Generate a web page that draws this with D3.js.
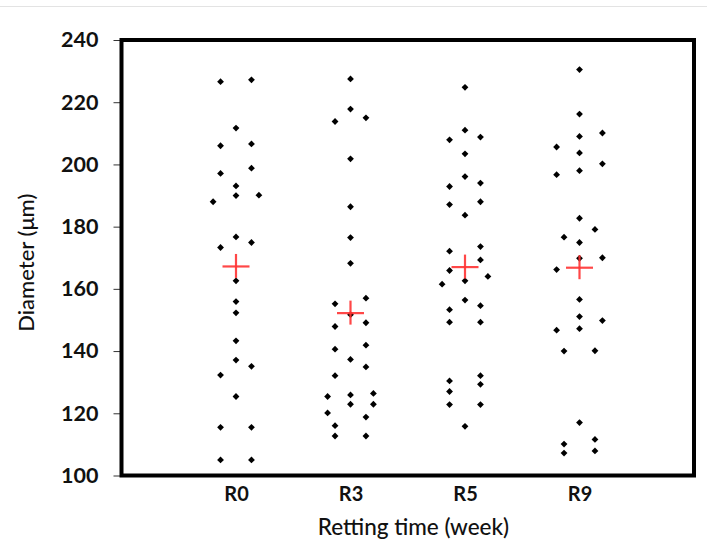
<!DOCTYPE html>
<html>
<head>
<meta charset="utf-8">
<script src="https://cdn.jsdelivr.net/npm/d3@7/dist/d3.min.js"></script>
<style>
  html, body { margin: 0; padding: 0; background: #ffffff; }
  svg { display: block; }
</style>
</head>
<body>
<svg id="chart" width="707" height="542"></svg>
<script>
// ---------- data ----------
const categories = ["R0", "R3", "R5", "R9"];

const r0Values = [226.6, 227.2, 211.7, 206.0, 206.6, 197.1, 198.8, 193.1, 190.0, 190.1, 188.0,
  176.7, 174.9, 173.3, 162.6, 155.9, 152.3, 143.3, 137.1, 135.1, 132.3, 125.4, 115.5, 115.5, 105.0, 105.0];
const r0Columns = [-1, 1, 0, -1, 1, -1, 1, 0, 0, 2, -2, 0, 1, -1, 0, 0, 0, 0, 0, 1, -1, 0, -1, 1, -1, 1];

const r3Values = [227.5, 217.8, 213.8, 215.0, 201.8, 186.4, 176.5, 168.2, 157.0, 155.2, 151.7, 149.1,
  147.9, 140.6, 141.9, 137.3, 134.9, 132.1, 125.4, 125.9, 126.4, 122.9, 122.9, 120.1, 118.8, 116.0, 112.7, 112.7];
const r3Columns = [0, 0, -1, 1, 0, 0, 0, 0, 1, -1, 0, 1, -1, -1, 1, 0, 1, -1, -2, 0, 2, 0, 2, -2, 1, -1, -1, 1];

const r5Values = [224.8, 211.0, 207.9, 208.8, 203.4, 196.1, 192.9, 194.0, 187.1, 188.0, 183.7, 172.1,
  173.6, 169.3, 165.9, 164.0, 161.5, 162.6, 156.4, 153.3, 154.6, 149.3, 149.3, 132.1, 129.3, 130.4,
  127.0, 122.8, 122.8, 115.8];
const r5Columns = [0, 0, -1, 1, 0, 0, -1, 1, -1, 1, 0, -1, 1, 1, -1, 2, -2, 0, 0, -1, 1, -1, 1, 1, 1, -1, -1, -1, 1, 0];

const r9Values = [230.5, 216.2, 209.0, 210.1, 205.6, 203.7, 200.2, 196.7, 198.0, 182.7, 179.1, 176.6,
  174.9, 170.0, 169.8, 166.2, 156.6, 151.1, 149.8, 146.7, 147.2, 140.0, 140.1, 117.0, 110.1, 111.6, 107.2, 107.9];
const r9Columns = [0, 0, 0, 2, -2, 0, 2, -2, 0, 0, 1, -1, 0, 2, 0, -2, 0, 0, 2, -2, 0, -1, 1, 0, -1, 1, -1, 1];

const means = [167.2, 152.2, 167.0, 166.8];

const yTicks = [100, 120, 140, 160, 180, 200, 220, 240];

const yTitle = "Diameter (\u03bcm)";
const xTitle = "Retting time (week)";

// ---------- layout ----------
const svg = d3.select("#chart");
const plotLeft = 121.5, plotRight = 694, plotTop = 40, plotBottom = 475.5;
const font = "Lato, 'Open Sans', sans-serif";

// faint rule along the top of the picture
svg.append("line")
  .attr("x1", 0).attr("x2", 707).attr("y1", 6.5).attr("y2", 6.5)
  .attr("stroke", "#e3e3e3").attr("stroke-width", 1);

const x = d3.scaleLinear().domain([0, categories.length + 1]).range([plotLeft, plotRight]);
const y = d3.scaleLinear().domain([100, 240]).range([plotBottom, plotTop]);

// jitter column -> offset in category units
const colOffset = d3.scaleOrdinal().domain([-2, -1, 0, 1, 2]).range([-0.2, -0.135, 0, 0.135, 0.2]);

const groups = [
  { values: r0Values, cols: r0Columns },
  { values: r3Values, cols: r3Columns },
  { values: r5Values, cols: r5Columns },
  { values: r9Values, cols: r9Columns }
];

const points = [];
groups.forEach((g, i) => {
  g.values.forEach((v, j) => points.push({ cat: i + 1, col: g.cols[j], v }));
});

// y axis
const yAxis = d3.axisLeft(y).tickValues(yTicks).tickSize(8).tickPadding(15);
const gy = svg.append("g").attr("transform", `translate(${plotLeft},0)`).call(yAxis);
gy.select(".domain").remove();
gy.selectAll(".tick line").attr("stroke", "#333").attr("stroke-width", 1);
gy.selectAll(".tick text")
  .attr("font-family", font).attr("font-size", 21.5).attr("font-weight", 700)
  .attr("fill", "#111");

// x category labels
const xAxis = d3.axisBottom(x)
  .tickValues(categories.map((c, i) => i + 1))
  .tickFormat(d => categories[d - 1])
  .tickSize(0).tickPadding(11);
const gx = svg.append("g").attr("transform", `translate(0,${plotBottom})`).call(xAxis);
gx.select(".domain").remove();
gx.selectAll(".tick text")
  .attr("font-family", font).attr("font-size", 20).attr("font-weight", 700)
  .attr("fill", "#111");

// frame
svg.append("rect")
  .attr("x", plotLeft).attr("y", plotTop)
  .attr("width", plotRight - plotLeft).attr("height", plotBottom - plotTop)
  .attr("fill", "none").attr("stroke", "#000").attr("stroke-width", 4);

// points (diamonds)
const diamond = d3.symbol().type(d3.symbolSquare).size(23);
svg.append("g").selectAll("path")
  .data(points)
  .join("path")
  .attr("d", diamond)
  .attr("transform", d => `translate(${x(d.cat + colOffset(d.col))},${y(d.v)}) rotate(45)`)
  .attr("fill", "#000");

// mean crosses
const cross = svg.append("g").attr("stroke", "#ff3333").attr("stroke-width", 2.2).attr("stroke-opacity", 0.9);
means.forEach((m, i) => {
  const cx = x(i + 1), cy = y(m);
  cross.append("line").attr("x1", cx - 13.5).attr("x2", cx + 13.5).attr("y1", cy).attr("y2", cy);
  cross.append("line").attr("x1", cx).attr("x2", cx).attr("y1", cy - 12.5).attr("y2", cy + 11.5);
});

// axis titles
svg.append("text")
  .attr("transform", `translate(34,${(plotTop + plotBottom) / 2 + 5}) rotate(-90)`)
  .attr("text-anchor", "middle")
  .attr("font-family", font).attr("font-size", 22).attr("font-weight", 500)
  .attr("fill", "#111")
  .text(yTitle);

svg.append("text")
  .attr("x", x(2.55)).attr("y", 535)
  .attr("text-anchor", "middle")
  .attr("font-family", font).attr("font-size", 22.5).attr("font-weight", 500)
  .attr("fill", "#111")
  .text(xTitle);
</script>
</body>
</html>
